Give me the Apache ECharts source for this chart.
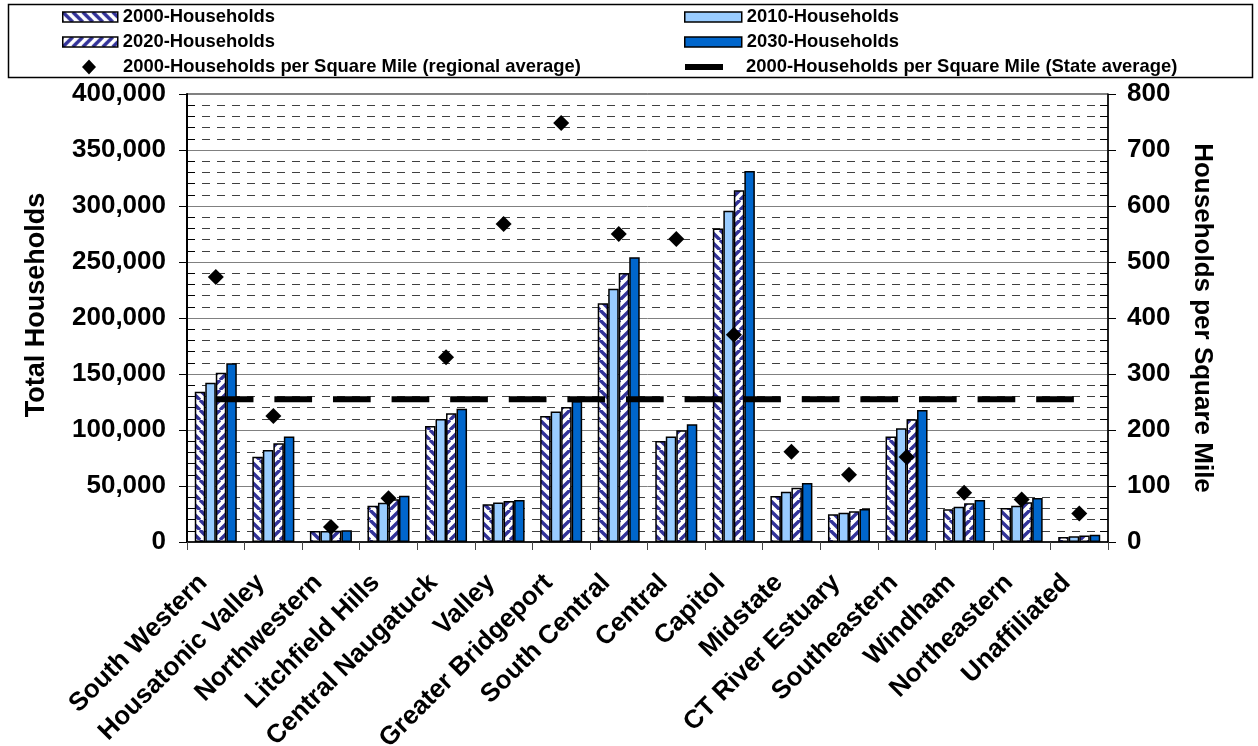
<!DOCTYPE html>
<html>
<head>
<meta charset="utf-8">
<title>Households by Planning Region</title>
<script src="https://cdn.jsdelivr.net/npm/echarts@6/dist/echarts.min.js"></script>
<style>
  html, body { margin: 0; padding: 0; background: #fff; }
  #chart { width: 1258px; height: 746px; }
</style>
</head>
<body>
<div id="chart"></div>
<script>
// Planning regions
const categories = [
  'South Western', 'Housatonic Valley', 'Northwestern', 'Litchfield Hills',
  'Central Naugatuck', 'Valley', 'Greater Bridgeport', 'South Central',
  'Central', 'Capitol', 'Midstate', 'CT River Estuary', 'Southeastern',
  'Windham', 'Northeastern', 'Unaffiliated'
];

// Total households by year
const households2000 = [134200, 76200, 9800, 32400, 103600, 33800, 112500, 213100, 90200, 279800, 41100, 24700, 94300, 29200, 30400, 4500];
const households2010 = [142200, 82100, 9800, 35100, 109800, 35200, 116500, 226200, 94300, 295800, 44900, 26200, 101500, 31500, 32400, 5200];
const households2020 = [151200, 88100, 10000, 38100, 114900, 36500, 120500, 240200, 99700, 314000, 48500, 27400, 109500, 34500, 35400, 5800];
const households2030 = [159500, 94300, 10400, 41400, 119000, 37600, 125800, 254200, 105100, 331300, 52700, 29500, 117900, 37500, 39300, 6500];

// 2000 households per square mile: regional averages and the state average
const densityRegional = [473, 225, 27, 78, 330, 568, 748, 550, 541, 370, 161, 120, 152, 88, 76, 51];
const densityState = [255, 255, 255, 255, 255, 255, 255, 255, 255, 255, 255, 255, 255, 255, 255, 255];

// Axis ranges
const householdAxis = { min: 0, max: 400000, interval: 50000 };
const densityAxis = { min: 0, max: 800, interval: 100 };

const FONT = '"Liberation Sans", Arial, Helvetica, sans-serif';

// Diagonal hatch fill: 'back' = \\\ , 'fwd' = ///
function hatch(dir) {
  const s = 10;
  const c = document.createElement('canvas');
  c.width = s; c.height = s;
  const g = c.getContext('2d');
  g.fillStyle = '#ffffff';
  g.fillRect(0, 0, s, s);
  g.strokeStyle = '#333399';
  g.lineWidth = 3.4;
  g.beginPath();
  for (const k of [-s, 0, s]) {
    if (dir === 'back') { g.moveTo(k, 0); g.lineTo(k + s, s); }
    else { g.moveTo(k, s); g.lineTo(k + s, 0); }
  }
  g.stroke();
  return { image: c, repeat: 'repeat' };
}

const fmtThousands = v => String(v).replace(/\B(?=(\d{3})+(?!\d))/g, ',');

const legendText = { fontSize: 18.4, fontWeight: 'bold', color: '#000', fontFamily: FONT, lineHeight: 18 };
function legendItem(name, left, top, extra) {
  return Object.assign({
    data: [name], left: left, top: top, padding: 0, itemGap: 0,
    selectedMode: false, textStyle: legendText,
    itemStyle: { borderWidth: 1.5, borderColor: '#000' }
  }, extra);
}

const barBase = {
  type: 'bar',
  barGap: '0%',
  barCategoryGap: '27%',
  silent: true
};

const chart = echarts.init(document.getElementById('chart'), null, { renderer: 'canvas' });

chart.setOption({
  animation: false,
  backgroundColor: '#ffffff',
  textStyle: { fontFamily: FONT },
  graphic: [{
    type: 'rect',
    shape: { x: 8.5, y: 4.5, width: 1244, height: 73 },
    style: { fill: 'none', stroke: '#000', lineWidth: 1.5 },
    silent: true,
    z: -10
  }],
  legend: [
    legendItem('2000-Households', 62, 8, { itemWidth: 55, itemHeight: 10, icon: 'rect' }),
    legendItem('2010-Households', 684, 8, { itemWidth: 57, itemHeight: 10, icon: 'rect' }),
    legendItem('2020-Households', 62, 33, { itemWidth: 55, itemHeight: 10, icon: 'rect' }),
    legendItem('2030-Households', 684, 33, { itemWidth: 57, itemHeight: 10, icon: 'rect' }),
    legendItem('2000-Households per Square Mile (regional average)', 82, 58, {
      itemWidth: 14, itemHeight: 15, icon: 'diamond',
      itemStyle: { borderWidth: 0, color: '#000', opacity: 1 },
      textStyle: Object.assign({}, legendText, { padding: [0, 0, 0, 22] })
    }),
    legendItem('2000-Households per Square Mile (State average)', 685, 58, {
      itemWidth: 38, itemHeight: 6, icon: 'rect',
      itemStyle: { borderWidth: 0, color: '#000', opacity: 1 },
      textStyle: Object.assign({}, legendText, { padding: [0, 0, 0, 18] })
    })
  ],
  grid: {
    left: 187, right: 150, top: 94, bottom: 204,
    outerBoundsMode: 'none',
    containLabel: false,
    show: true, borderColor: '#000', borderWidth: 1, backgroundColor: 'transparent'
  },
  xAxis: {
    type: 'category',
    data: categories,
    boundaryGap: true,
    axisLine: { show: true, lineStyle: { color: '#000', width: 1.5 } },
    axisTick: { show: true, length: 8, lineStyle: { color: '#444', width: 1 } },
    axisLabel: {
      interval: 0, rotate: 45, margin: 24, padding: [0, 18, 0, 0],
      fontSize: 26, fontWeight: 'bold', color: '#000', fontFamily: FONT
    },
    splitLine: { show: false }
  },
  yAxis: [
    {
      type: 'value',
      position: 'left',
      min: householdAxis.min, max: householdAxis.max, interval: householdAxis.interval,
      name: 'Total Households',
      nameLocation: 'middle',
      nameGap: 137,
      nameRotate: 90,
      nameTextStyle: { fontSize: 27, fontWeight: 'bold', color: '#000', fontFamily: FONT, padding: [0, 0, 0, 26] },
      axisLine: { show: true, lineStyle: { color: '#000', width: 2 } },
      axisTick: { show: true, length: 8, lineStyle: { color: '#000', width: 1 } },
      minorTick: { show: true, splitNumber: 5, length: -8, lineStyle: { color: '#000', width: 1 } },
      axisLabel: {
        margin: 21, fontSize: 26, fontWeight: 'bold', color: '#000', fontFamily: FONT,
        formatter: fmtThousands
      },
      splitLine: { show: true, lineStyle: { color: '#808080', width: 1 } },
      minorSplitLine: { show: true, lineStyle: { color: '#404040', width: 1, type: [8, 7] } }
    },
    {
      type: 'value',
      position: 'right',
      min: densityAxis.min, max: densityAxis.max, interval: densityAxis.interval,
      name: 'Households per Square Mile',
      nameLocation: 'middle',
      nameGap: 81,
      nameRotate: -90,
      nameTextStyle: { fontSize: 26, fontWeight: 'bold', color: '#000', fontFamily: FONT },
      axisLine: { show: true, lineStyle: { color: '#000', width: 1.5 } },
      axisTick: { show: true, length: 8, lineStyle: { color: '#000', width: 1 } },
      minorTick: { show: true, splitNumber: 5, length: -8, lineStyle: { color: '#000', width: 1 } },
      axisLabel: { margin: 19, fontSize: 26, fontWeight: 'bold', color: '#000', fontFamily: FONT },
      splitLine: { show: false }
    }
  ],
  series: [
    Object.assign({}, barBase, {
      name: '2000-Households', data: households2000,
      itemStyle: { color: hatch('back'), borderColor: '#000', borderWidth: 1.5 }
    }),
    Object.assign({}, barBase, {
      name: '2010-Households', data: households2010,
      itemStyle: { color: '#99CCFF', borderColor: '#000', borderWidth: 1.5 }
    }),
    Object.assign({}, barBase, {
      name: '2020-Households', data: households2020,
      itemStyle: { color: hatch('fwd'), borderColor: '#000', borderWidth: 1.5 }
    }),
    Object.assign({}, barBase, {
      name: '2030-Households', data: households2030,
      itemStyle: { color: '#0066CC', borderColor: '#000', borderWidth: 1.5 }
    }),
    {
      type: 'line',
      name: '2000-Households per Square Mile (State average)',
      yAxisIndex: 1,
      data: densityState,
      symbol: 'none',
      showSymbol: false,
      silent: true,
      z: 3,
      itemStyle: { color: '#000' },
      lineStyle: { color: '#000', width: 6, type: [37.7, 20.9], cap: 'butt' }
    },
    {
      type: 'scatter',
      name: '2000-Households per Square Mile (regional average)',
      yAxisIndex: 1,
      data: densityRegional,
      symbol: 'diamond',
      symbolSize: 16,
      silent: true,
      z: 4,
      itemStyle: { color: '#000', opacity: 1 }
    }
  ]
});
</script>
</body>
</html>
